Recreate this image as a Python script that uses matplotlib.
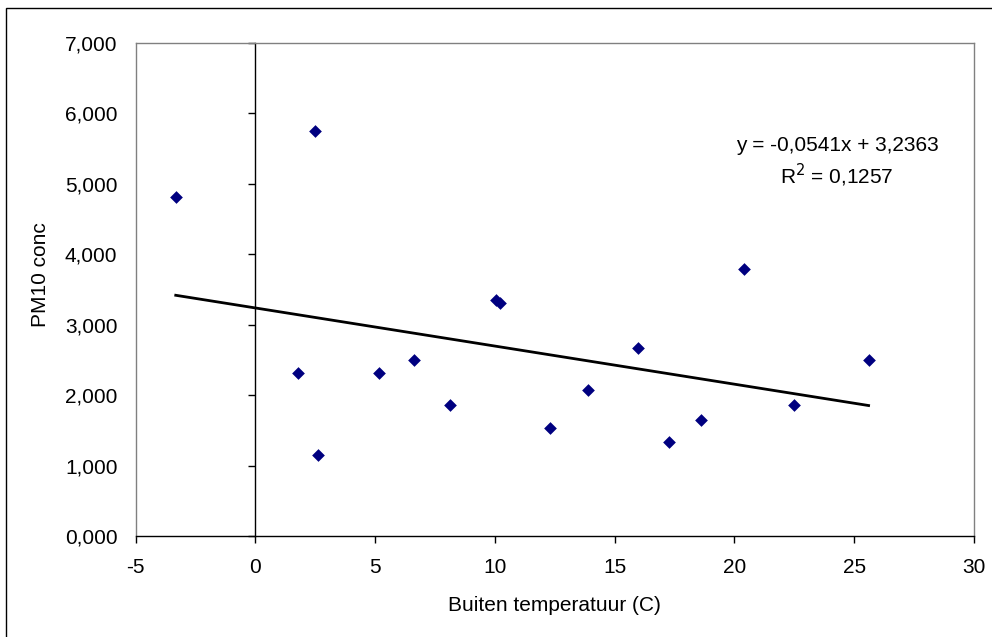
import matplotlib
matplotlib.use('Agg')

import matplotlib.pyplot as plt
from matplotlib.patches import Rectangle
import numpy as np

plt.rcParams['font.family'] = ['Liberation Sans', 'DejaVu Sans']

# data
temp = [-3.32, 2.49, 1.78, 2.61, 5.16, 6.63, 8.13, 10.05, 10.22, 12.31,
        13.9, 15.99, 17.28, 18.6, 20.38, 22.47, 25.6]
pm10 = [4.81, 5.75, 2.31, 1.15, 2.31, 2.50, 1.86, 3.35, 3.31, 1.53,
        2.07, 2.67, 1.33, 1.65, 3.79, 1.86, 2.50]
slope = -0.0541
intercept = 3.2363
r2 = 0.1257

x_ticks = [-5, 0, 5, 10, 15, 20, 25, 30]
y_ticks = [0, 1, 2, 3, 4, 5, 6, 7]

W, H = 992, 637
fs = 15
fig = plt.figure(figsize=(W / 100, H / 100), dpi=100)
left, right, top, bottom = 135.5, 974, 42.7, 536
ax = fig.add_axes([left / W, 1 - bottom / H, (right - left) / W, (bottom - top) / H])

# outer chart border (cut off on right/bottom as in the original)
fig.patches.append(Rectangle((6 / W, -0.1), 1.2, 1 - 8 / H + 0.1, transform=fig.transFigure,
                             fill=False, edgecolor='black', linewidth=1.0))

ax.scatter(temp, pm10, marker='D', s=42, color='#000080', zorder=3, linewidths=0)

xs = np.array([min(temp), max(temp)])
ax.plot(xs, slope * xs + intercept, color='black', linewidth=2.0, zorder=2)

ax.set_xlim(-5, 30)
ax.set_ylim(0, 7)

for side in ['left', 'top', 'right']:
    ax.spines[side].set_color('#808080')
    ax.spines[side].set_linewidth(1.0)
ax.spines['bottom'].set_color('black')
ax.spines['bottom'].set_linewidth(1.0)

ax.set_xticks(x_ticks)
ax.set_xticklabels([str(t) for t in x_ticks])
ax.tick_params(axis='x', direction='out', length=5, width=1, color='black',
               labelsize=fs, pad=11)

ax.set_yticks(y_ticks)
ax.set_yticklabels([f"{v:.3f}".replace('.', ',') for v in y_ticks])
ax.tick_params(axis='y', length=0, labelsize=fs, pad=13)

# vertical axis crossing at x = 0
sec = ax.secondary_yaxis((0 - (-5)) / 35)
sec.spines['left'].set_color('black')
sec.spines['left'].set_linewidth(1.0)
sec.set_yticks(y_ticks)
sec.set_yticklabels([])
sec.tick_params(axis='y', direction='out', length=5, width=1, color='black')

ax.set_xlabel('Buiten temperatuur (C)', fontsize=fs)
ax.xaxis.set_label_coords(0.5, -0.122)
ax.set_ylabel('PM10 conc', fontsize=fs)
ax.yaxis.set_label_coords(-0.102, 0.53)

eq = f"y = {slope:.4f}x + {intercept:.4f}".replace('.', ',')
fig.text(837 / W, 1 - 145 / H, eq, fontsize=fs, ha='center', va='center')
fig.text(837 / W, 1 - 175 / H, f"R$^2$ = {r2:.4f}".replace('.', ','),
         fontsize=fs, ha='center', va='center')

fig.savefig('out.png', dpi=100)
